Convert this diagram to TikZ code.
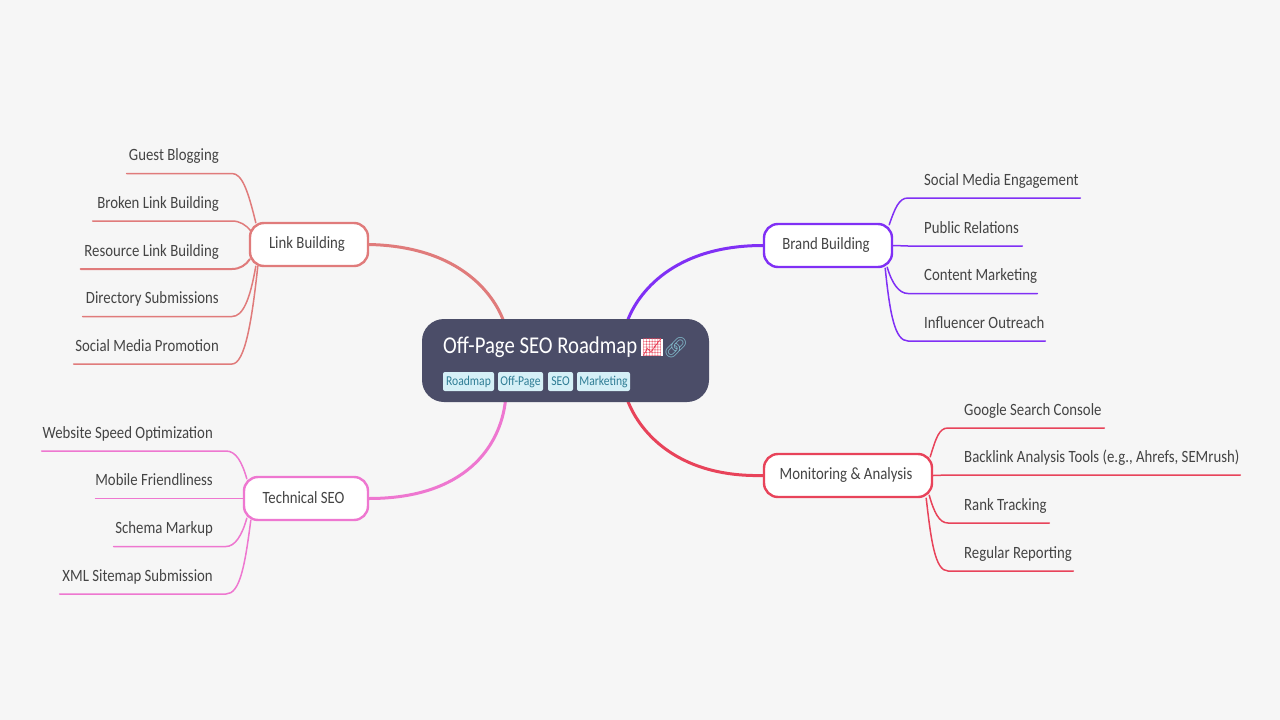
\documentclass[tikz,border=0pt]{standalone}
\usepackage{fontspec}
\setmainfont[FakeStretch=0.86]{Carlito}
\newfontfamily\emojifont{Noto Emoji}
\usetikzlibrary{calc}
\pgfdeclarelayer{bg}
\pgfdeclarelayer{back}
\pgfsetlayers{bg,back,main}
\definecolor{bgc}{HTML}{F6F6F6}
\definecolor{rootc}{HTML}{4B4D68}
\definecolor{txtc}{HTML}{444444}
\definecolor{tagc}{HTML}{D5F0F7}
\definecolor{tagt}{HTML}{2F7D95}
\definecolor{linkc}{HTML}{7FB5C6}
\definecolor{lbc}{HTML}{E07B7B}
\definecolor{bbc}{HTML}{8030F5}
\definecolor{mac}{HTML}{E8435A}
\definecolor{tsc}{HTML}{EE77D0}
\tikzset{
  x=1pt,y=-1pt,
  fs/.style={font=\fontsize{17.2}{20}\selectfont},
  branchbox/.style={draw=#1,line width=2.4pt,fill=white,rounded corners=14pt,text=txtc,fs,inner sep=0pt,minimum height=43pt},
  leafl/.style={anchor=south east,text=txtc,fs,inner sep=0pt,minimum height=33pt},
  leafr/.style={anchor=south west,text=txtc,fs,inner sep=0pt,minimum height=33pt},
  tagbox/.style={fill=tagc,text=tagt,rounded corners=2pt,inner sep=0pt,minimum height=19pt,font=\fontsize{13.5}{16}\selectfont},
  thick1/.style={line width=3pt,line cap=round},
  thin1/.style={line width=1.5pt,line cap=round},
}
\newcommand{\leafL}[5]{% name, text, xleft, xright, y
  \node[leafl] (#1) at (#4,#5) {\makebox[\dimexpr#4pt-#3pt-13pt\relax][r]{\strut#2}\kern13pt};}
\newcommand{\leafR}[5]{%
  \node[leafr] (#1) at (#3,#5) {\kern16pt\makebox[\dimexpr#4pt-#3pt-16pt\relax][l]{\strut#2}};}
\begin{document}
\begin{tikzpicture}
\begin{pgfonlayer}{bg}
\fill[bgc] (0,0) rectangle (1280,720);
\end{pgfonlayer}
\useasboundingbox (0,0) rectangle (1280,720);
% root
\node[fill=rootc,rounded corners=22pt,minimum width=287pt,minimum height=83pt,inner sep=0pt] (root) at (565.5,360.5) {};
\node[anchor=west,text=white,inner sep=0pt,font=\fontsize{24.1}{28}\selectfont] (title) at (443,347.5) {\strut Off-Page SEO Roadmap};
\node[anchor=west,inner sep=0pt,fill=white,text=mac,font=\fontsize{17.5}{20}\selectfont] (em1) at (641,347.5) {\emojifont 📈};
\node[anchor=west,inner sep=0pt,font=\fontsize{20}{23}\selectfont,text=linkc] (em2) at (663,347.5) {\emojifont 🔗};
\node[tagbox,minimum width=51pt] (t1) at (468.5,381.5) {\raisebox{-1pt}{Roadmap}};
\node[tagbox,minimum width=45pt] (t2) at (520.5,381.5) {\raisebox{-1pt}{Off-Page}};
\node[tagbox,minimum width=25pt] (t3) at (560.5,381.5) {\raisebox{-1pt}{SEO}};
\node[tagbox,minimum width=53pt] (t4) at (603.5,381.5) {\raisebox{-1pt}{Marketing}};
% branches
\node[branchbox=lbc,minimum width=118pt] (lb) at (309,244.5) {\raisebox{-1pt}{Link Building}\kern4pt};
\node[branchbox=bbc,minimum width=128pt] (bb) at (828,245.5) {\raisebox{-1pt}{Brand Building}\kern4pt};
\node[branchbox=mac,minimum width=168pt] (ma) at (848,475.5) {\raisebox{-1pt}{Monitoring \& Analysis}\kern4pt};
\node[branchbox=tsc,minimum width=124pt] (ts) at (306,498.5) {\raisebox{1pt}{Technical SEO}\kern5pt};
% leaves
\leafL{l1}{Guest Blogging}{127}{232}{173.5}
\leafL{l2}{Broken Link Building}{93}{232}{221}
\leafL{l3}{Resource Link Building}{81}{232}{269}
\leafL{l4}{Directory Submissions}{83}{232}{316.5}
\leafL{l5}{Social Media Promotion}{74}{232}{364}
\leafR{b1}{Social Media Engagement}{908}{1080}{198}
\leafR{b2}{Public Relations}{908}{1022}{246}
\leafR{b3}{Content Marketing}{908}{1037}{293.5}
\leafR{b4}{Influencer Outreach}{908}{1045}{341}
\leafR{m1}{Google Search Console}{948}{1104}{428}
\leafR{m2}{Backlink Analysis Tools (e.g., Ahrefs, SEMrush)}{948}{1240}{475}
\leafR{m3}{Rank Tracking}{948}{1049}{523}
\leafR{m4}{Regular Reporting}{948}{1073}{571}
\leafL{s1}{Website Speed Optimization}{42}{226}{451}
\leafL{s2}{Mobile Friendliness}{96}{226}{498.5}
\leafL{s3}{Schema Markup}{114}{226}{546.5}
\leafL{s4}{XML Sitemap Submission}{60}{226}{594}
\begin{pgfonlayer}{back}
% main connectors
\draw[lbc,thick1] (lb.east) .. controls ($(lb.east)+(90,2)$) and ($(root.north)+(-72,-25)$) .. ($(root.north)+(-62,2)$);
\draw[bbc,thick1] (bb.west) .. controls ($(bb.west)+(-90,0)$) and ($(root.north)+(72,-25)$) .. ($(root.north)+(62,2)$);
\draw[mac,thick1] (ma.west) .. controls ($(ma.west)+(-90,2)$) and ($(root.south)+(72,25)$) .. ($(root.south)+(62,-2)$);
\draw[tsc,thick1] (ts.east) .. controls ($(ts.east)+(95,0)$) and ($(root.south)+(-65,45)$) .. ($(root.south)+(-60,-2)$);
% link building
\draw[lbc,thin1] ($(lb.north west)+(7,1)$) .. controls ($(l1.south east)+(16,17)$) and ($(l1.south east)+(10,0)$) .. (l1.south east) -- (l1.south west);
\draw[lbc,thin1] ($(lb.north west)+(2,9)$) .. controls ($(l2.south east)+(14,4)$) and ($(l2.south east)+(8,0)$) .. (l2.south east) -- (l2.south west);
\draw[lbc,line width=2pt,line cap=round] ($(lb.south west)+(1,-8)$) .. controls ($(l3.south east)+(14,-4)$) and ($(l3.south east)+(8,0)$) .. (l3.south east) -- (l3.south west);
\draw[lbc,thin1] ($(lb.south west)+(7,-1)$) .. controls ($(l4.south east)+(18,-17)$) and ($(l4.south east)+(11,0)$) .. (l4.south east) -- (l4.south west);
\draw[lbc,thin1] ($(lb.south west)+(9,-1)$) .. controls ($(l5.south east)+(20,-44)$) and ($(l5.south east)+(13,0)$) .. (l5.south east) -- (l5.south west);
% brand building
\draw[bbc,thin1] ($(bb.north east)+(-4,2)$) .. controls ($(b1.south west)+(-13,10)$) and ($(b1.south west)+(-9,0)$) .. (b1.south west) -- (b1.south east);
\draw[bbc,thin1] (bb.east) -- (b2.south west) -- (b2.south east);
\draw[bbc,thin1] ($(bb.south east)+(-6,-1)$) .. controls ($(b3.south west)+(-16,-10)$) and ($(b3.south west)+(-9,0)$) .. (b3.south west) -- (b3.south east);
\draw[bbc,thin1] ($(bb.south east)+(-8,0)$) .. controls ($(b4.south west)+(-18,-26)$) and ($(b4.south west)+(-13,0)$) .. (b4.south west) -- (b4.south east);
% monitoring
\draw[mac,thin1] ($(ma.north east)+(-3,4)$) .. controls ($(m1.south west)+(-12,10)$) and ($(m1.south west)+(-9,0)$) .. (m1.south west) -- (m1.south east);
\draw[mac,thin1] (ma.east) -- (m2.south west) -- (m2.south east);
\draw[mac,thin1] ($(ma.south east)+(-4,-3)$) .. controls ($(m3.south west)+(-14,-11)$) and ($(m3.south west)+(-9,0)$) .. (m3.south west) -- (m3.south east);
\draw[mac,thin1] ($(ma.south east)+(-7,0)$) .. controls ($(m4.south west)+(-17,-31)$) and ($(m4.south west)+(-13,0)$) .. (m4.south west) -- (m4.south east);
% technical
\draw[tsc,thin1] ($(ts.north west)+(4,3)$) .. controls ($(s1.south east)+(16,11)$) and ($(s1.south east)+(10,0)$) .. (s1.south east) -- (s1.south west);
\draw[tsc,thin1] (ts.west) -- (s2.south east) -- (s2.south west);
\draw[tsc,thin1] ($(ts.south west)+(4,-3)$) .. controls ($(s3.south east)+(16,-11)$) and ($(s3.south east)+(9,0)$) .. (s3.south east) -- (s3.south west);
\draw[tsc,thin1] ($(ts.south west)+(8,-1)$) .. controls ($(s4.south east)+(19,-29)$) and ($(s4.south east)+(14,0)$) .. (s4.south east) -- (s4.south west);
\end{pgfonlayer}
\end{tikzpicture}
\end{document}
